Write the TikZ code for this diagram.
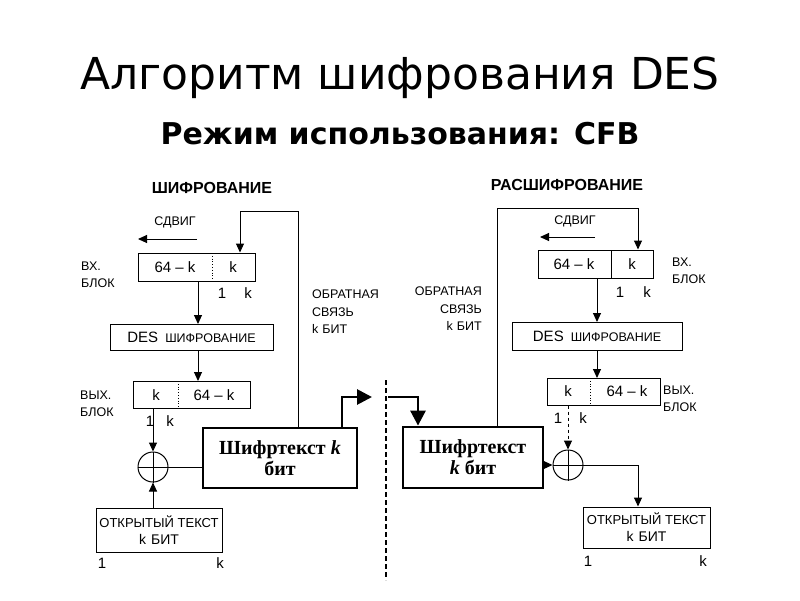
\documentclass[tikz,border=0pt]{standalone}
\usepackage{fontspec}
\setmainfont{Liberation Sans}
\newfontfamily\titlefont{DejaVu Sans}
\newfontfamily\cipherfont{Liberation Serif}
\usetikzlibrary{arrows.meta}
\begin{document}
\begin{tikzpicture}[x=1pt,y=-1pt]
\tikzstyle{myblock} = [draw, line width=1pt, inner sep=0pt]
\tikzstyle{myplain} = [draw, line width=1pt, inner sep=0pt, align=center, font=\fontsize{13}{17}\selectfont]
\tikzstyle{mycipher} = [draw, line width=2.8pt, inner sep=0pt, align=center, font=\cipherfont\bfseries\fontsize{20}{21}\selectfont]
\tikzstyle{mytxt} = [inner sep=0pt, font=\fontsize{15}{17}\selectfont]
\tikzstyle{mylab} = [inner sep=0pt, font=\fontsize{12.5}{17.5}\selectfont]
\tikzstyle{myhead} = [inner sep=0pt, font=\bfseries\fontsize{16}{18}\selectfont]
\tikzstyle{myxor} = [draw, circle, line width=1pt, minimum size=30pt, inner sep=0pt]
\tikzstyle{myline} = [line width=1pt, -{Triangle[length=9pt,width=8pt]}]
\tikzstyle{mythick} = [line width=2.8pt, -{Triangle[length=15pt,width=15pt]}]
\newcommand{\desbox}{{\fontsize{15}{16}\selectfont DES}\hspace{7pt}{\fontsize{12.5}{14}\selectfont ШИФРОВАНИЕ}}
\newcommand{\plainbox}{ОТКРЫТЫЙ ТЕКСТ\\{\fontsize{14}{16}\selectfont k\hspace{5pt}БИТ}}
\useasboundingbox[fill=white] (0,0) rectangle (800,600);
% titles
\node[font=\titlefont\fontsize{44}{50}\selectfont] (title) at (400,78) {Алгоритм шифрования DES};
\node[font=\titlefont\bfseries\fontsize{30}{34}\selectfont] (subtitle) at (400,134) {Режим использования: CFB};
% ---- encryption side
\node[myhead] (hdrL) at (212,188) {ШИФРОВАНИЕ};
\node[mylab] (shiftL) at (175,222) {СДВИГ};
\coordinate (shLa) at (197,239);
\coordinate (shLb) at (138,239);
\node[myblock, minimum width=117pt, minimum height=28pt] (inL) at (196.5,267) {};
\draw[dotted, line width=0.8pt] (212,253) -- (212,281);
\node[mytxt] (inLa) at (175,267) {64 – k};
\node[mytxt] (inLb) at (233,267) {k};
\node[mylab, anchor=west, align=left] (inLlab) at (81,275) {ВХ.\\БЛОК};
\node[mytxt] (inL1) at (222,293) {1};
\node[mytxt] (inLk) at (248,293) {k};
\node[myblock, minimum width=163pt, minimum height=26pt] (desL) at (191.5,337) {\desbox};
\node[myblock, minimum width=117pt, minimum height=27pt] (outL) at (191.5,394.5) {};
\draw[dotted, line width=0.8pt] (178,381) -- (178,408);
\node[mytxt] (outLa) at (156,395) {k};
\node[mytxt] (outLb) at (214,395) {64 – k};
\node[mylab, anchor=west, align=left] (outLlab) at (80,404) {ВЫХ.\\БЛОК};
\node[mytxt] (outL1) at (150,421) {1};
\node[mytxt] (outLk) at (170,421) {k};
\node[myxor] (xL) at (153,467) {};
\draw[line width=1pt] (xL.north) -- (xL.south) (xL.west) -- (xL.east);
\node[myplain, minimum width=126pt, minimum height=44pt] (ptL) at (159,530) {\plainbox};
\node[mytxt] (ptL1) at (102,563) {1};
\node[mytxt] (ptLk) at (220,563) {k};
\node[mycipher, minimum width=154pt, minimum height=60pt] (ctL) at (280,458) {Шифртекст \textit{k}\\бит};
\node[mylab, anchor=west, align=left] (fbLlab) at (312,312) {ОБРАТНАЯ\\СВЯЗЬ\\k\hspace{4pt}БИТ};
\coordinate (fbL1) at (298,211);
\coordinate (fbL2) at (240,211);
\coordinate (sendL) at (342,397);
\coordinate (sendE) at (372,397);
% connectors
\draw[myline] (shLa) -- (shLb);
\draw[myline] (fbL1 |- ctL.north) -- (fbL1) -- (fbL2) -- (fbL2 |- inL.north);
\draw[myline] (198,281) -- (198,324);
\draw[myline] (198,350) -- (198,381);
\draw[myline] (xL |- outL.south) -- (xL.north);
\draw[myline] (xL |- ptL.north) -- (xL.south);
\draw[line width=1pt] (xL.east) -- (ctL.west |- xL.east);
\draw[mythick] (sendL |- ctL.north) -- (sendL) -- (sendE);
% ---- channel
\coordinate (cutT) at (386,380);
\coordinate (cutB) at (386,580);
\draw[line width=1.2pt, dash pattern=on 5pt off 3pt] (cutT) -- (cutB);
% ---- decryption side
\node[myhead] (hdrR) at (567,185) {РАСШИФРОВАНИЕ};
\node[mylab] (shiftR) at (575,221) {СДВИГ};
\coordinate (shRa) at (595,237);
\coordinate (shRb) at (540,237);
\node[myblock, minimum width=115pt, minimum height=28pt] (inR) at (595.5,264) {};
\draw[line width=1pt] (611,250) -- (611,278);
\node[mytxt] (inRa) at (574,264) {64 – k};
\node[mytxt] (inRb) at (632,264) {k};
\node[mylab, anchor=west, align=left] (inRlab) at (672,271) {ВХ.\\БЛОК};
\node[mytxt] (inR1) at (620,292) {1};
\node[mytxt] (inRk) at (647,292) {k};
\node[myblock, minimum width=170pt, minimum height=28pt] (desR) at (597,336) {\desbox};
\node[myblock, minimum width=113pt, minimum height=27pt] (outR) at (603.5,391.5) {};
\draw[dotted, line width=0.8pt] (590,378) -- (590,405);
\node[mytxt] (outRa) at (568,391) {k};
\node[mytxt] (outRb) at (627,391) {64 – k};
\node[mylab, anchor=west, align=left] (outRlab) at (663,399) {ВЫХ.\\БЛОК};
\node[mytxt] (outR1) at (558,418) {1};
\node[mytxt] (outRk) at (583,418) {k};
\node[myxor] (xR) at (568,465) {};
\draw[line width=1pt] (xR.north) -- (xR.south) (xR.west) -- (xR.east);
\node[myplain, minimum width=127pt, minimum height=41pt] (ptR) at (646.5,527.5) {\plainbox};
\node[mytxt] (ptR1) at (588,561) {1};
\node[mytxt] (ptRk) at (703,561) {k};
\node[mycipher, minimum width=140pt, minimum height=61pt] (ctR) at (473,457.5) {Шифртекст\\\textit{k} бит};
\node[mylab, anchor=east, align=right] (fbRlab) at (482,309) {ОБРАТНАЯ\\СВЯЗЬ\\k\hspace{4pt}БИТ};
\coordinate (fbR1) at (497,208);
\coordinate (fbR2) at (638,208);
\coordinate (recvS) at (388,397);
\coordinate (recvC) at (418,397);
\coordinate (plR) at (638,465);
% connectors
\draw[myline] (shRa) -- (shRb);
\draw[myline] (fbR1 |- ctR.north) -- (fbR1) -- (fbR2) -- (fbR2 |- inR.north);
\draw[myline] (597,278) -- (597,322);
\draw[myline] (597,350) -- (597,378);
\draw[myline, dashed] (xR |- outR.south) -- (xR.north);
\draw[myline] (ctR.east |- xR.west) -- (xR.west);
\draw[myline] (xR.east) -- (plR) -- (plR |- ptR.north);
\draw[mythick] (recvS) -- (recvC) -- (recvC |- ctR.north);
\end{tikzpicture}
\end{document}
